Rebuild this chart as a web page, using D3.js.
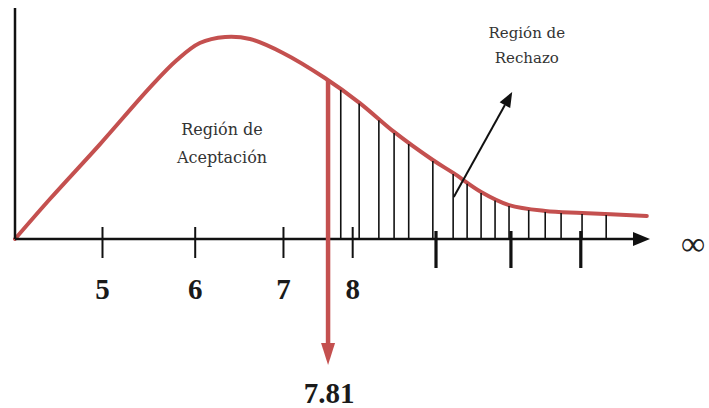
<!DOCTYPE html>
<html>
<head>
<meta charset="utf-8">
<script src="https://cdn.jsdelivr.net/npm/d3@7"></script>
<style>
  body { margin: 0; background: #fff; }
  svg { display: block; }
</style>
</head>
<body>
<svg id="chart" width="709" height="408"></svg>
<script>
// Curve (x in axis units 0-100, density relative to peak)
var curveX = [0, 5.5, 13.4, 21.3, 25.5, 29.1, 33.1, 37.0, 42.2, 48.8, 54.3, 59.7, 65.8, 69.0, 73.4, 77.8, 83.5, 89.3, 99.5];
var curveY = [0, 0.198, 0.47, 0.752, 0.886, 0.970, 1.0, 0.990, 0.921, 0.797, 0.673, 0.530, 0.391, 0.327, 0.233, 0.168, 0.139, 0.129, 0.114];

// Axis ticks
var tickPos = [13.7, 28.3, 42.2, 53.1];
var tickLabels = ["5", "6", "7", "8"];
var bigTickPos = [66.3, 78.1, 89.1];

// Critical value and hatch lines of the rejection region
var critical = 49.3;
var criticalLabel = "7.81";
var hatchPos = [51.3, 54.2, 57.3, 59.7, 62.0, 65.8, 69.0, 71.2, 73.4, 75.6, 77.8, 80.9, 83.5, 86.0, 89.3, 93.1];

var red = "#c4504f";
var svg = d3.select("#chart");

var x = d3.scaleLinear().domain([0, 100]).range([15, 650]);
var y = d3.scaleLinear().domain([0, 1]).range([239, 37]);

// Red density curve
var pts = curveX.map(function(d, i) { return [d, curveY[i]]; });
var line = d3.line()
    .x(function(d) { return x(d[0]); })
    .y(function(d) { return y(d[1]); })
    .curve(d3.curveCatmullRom.alpha(0.5));

var curvePath = svg.append("path")
    .datum(pts)
    .attr("d", line)
    .attr("fill", "none")
    .attr("stroke", red)
    .attr("stroke-width", 4)
    .attr("stroke-linecap", "round");

// find y of the curve at a pixel x (bisection along the path)
var node = curvePath.node();
var total = node.getTotalLength();
function curveYAt(px) {
    var lo = 0, hi = total;
    for (var k = 0; k < 40; k++) {
        var mid = (lo + hi) / 2;
        if (node.getPointAtLength(mid).x < px) lo = mid; else hi = mid;
    }
    return node.getPointAtLength(lo).y;
}

// Hatch lines
svg.selectAll("line.hatch")
    .data(hatchPos)
    .enter().append("line")
    .attr("class", "hatch")
    .attr("x1", function(d) { return x(d); })
    .attr("x2", function(d) { return x(d); })
    .attr("y1", y(0))
    .attr("y2", function(d) { return curveYAt(x(d)) + 1; })
    .attr("stroke", "#111")
    .attr("stroke-width", 1.6);

// Y axis line
svg.append("line")
    .attr("x1", x(0)).attr("x2", x(0))
    .attr("y1", 8).attr("y2", y(0))
    .attr("stroke", "#111").attr("stroke-width", 2.5);

// X axis line with arrow
svg.append("line")
    .attr("x1", x(0)).attr("x2", x(100) - 14)
    .attr("y1", y(0)).attr("y2", y(0))
    .attr("stroke", "#111").attr("stroke-width", 2.5);
svg.append("path")
    .attr("d", "M" + (x(100) - 17) + "," + (y(0) - 7) + "L" + x(100) + "," + y(0) + "L" + (x(100) - 17) + "," + (y(0) + 7) + "Z")
    .attr("fill", "#111");

// infinity sign
svg.append("text")
    .attr("x", 681).attr("y", 243)
    .attr("dy", "0.35em")
    .attr("font-family", "Liberation Serif")
    .attr("font-size", 34)
    .attr("fill", "#222")
    .text("\u221e");

// Labelled ticks via d3 axis
var axisG = svg.append("g")
    .attr("transform", "translate(0," + y(0) + ")")
    .call(d3.axisBottom(x).tickValues(tickPos)
        .tickFormat(function(d, i) { return tickLabels[i]; })
        .tickSize(0).tickPadding(50));
axisG.select(".domain").remove();
axisG.selectAll(".tick line")
    .attr("y1", -12).attr("y2", 19)
    .attr("stroke", "#111").attr("stroke-width", 2);
axisG.selectAll(".tick text")
    .attr("y", 0).attr("dy", 60)
    .attr("font-family", "Liberation Serif")
    .attr("font-weight", "bold")
    .attr("font-size", 29)
    .attr("fill", "#1a1a1a");

// Heavier unlabelled ticks
svg.selectAll("line.bigtick")
    .data(bigTickPos)
    .enter().append("line")
    .attr("class", "bigtick")
    .attr("x1", function(d) { return x(d); })
    .attr("x2", function(d) { return x(d); })
    .attr("y1", y(0) - 8).attr("y2", y(0) + 29)
    .attr("stroke", "#111").attr("stroke-width", 3.2);

// Red critical value arrow
var cx = x(critical);
svg.append("line")
    .attr("x1", cx).attr("x2", cx)
    .attr("y1", curveYAt(cx)).attr("y2", 348)
    .attr("stroke", red).attr("stroke-width", 4.5);
svg.append("path")
    .attr("d", "M" + (cx - 7) + ",343L" + cx + ",365L" + (cx + 7) + ",343Z")
    .attr("fill", red);
svg.append("text")
    .attr("x", cx + 1).attr("y", 403)
    .attr("text-anchor", "middle")
    .attr("font-family", "Liberation Serif")
    .attr("font-weight", "bold")
    .attr("font-size", 29)
    .attr("fill", "#1a1a1a")
    .text(criticalLabel);

// Region labels
function multiLine(cxu, vs, lines, size) {
    svg.append("g").selectAll("text")
        .data(lines)
        .enter().append("text")
        .attr("x", x(cxu))
        .attr("y", function(d, i) { return y(vs[i]); })
        .attr("text-anchor", "middle")
        .attr("font-family", "DejaVu Serif")
        .attr("font-size", size)
        .attr("fill", "#333")
        .text(function(d) { return d; });
}
multiLine(32.6, [0.515, 0.376], ["Región de", "Aceptación"], 16);
multiLine(80.6, [0.995, 0.871], ["Región de", "Rechazo"], 15);

// Black annotation arrow into the rejection region
var ax1 = x(69.1), ay1 = y(0.208), ax2 = x(78.3), ay2 = y(0.728);
var ang = Math.atan2(ay2 - ay1, ax2 - ax1);
var hl = 15, hw = 6;
var bx = ax2 - hl * Math.cos(ang), by = ay2 - hl * Math.sin(ang);
svg.append("line")
    .attr("x1", ax1).attr("y1", ay1).attr("x2", bx).attr("y2", by)
    .attr("stroke", "#111").attr("stroke-width", 2);
svg.append("path")
    .attr("d", "M" + ax2 + "," + ay2 +
        "L" + (bx + hw * Math.sin(ang)) + "," + (by - hw * Math.cos(ang)) +
        "L" + (bx - hw * Math.sin(ang)) + "," + (by + hw * Math.cos(ang)) + "Z")
    .attr("fill", "#111");
</script>
</body>
</html>
